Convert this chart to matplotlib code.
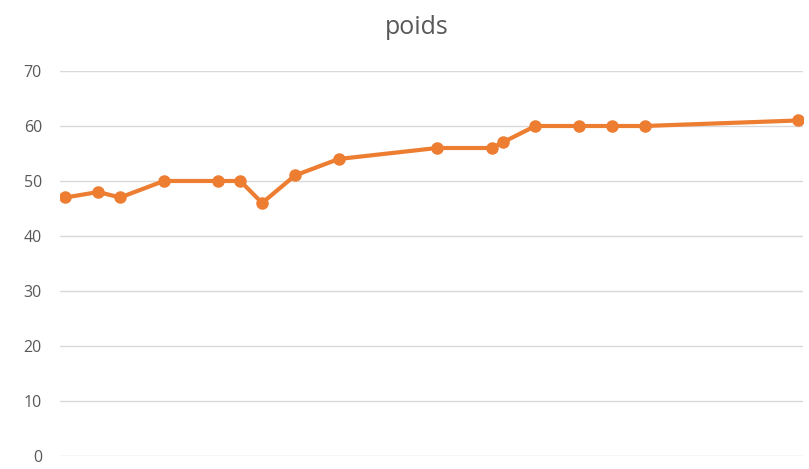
import matplotlib
matplotlib.use('Agg')
import matplotlib.pyplot as plt

# jours depuis la premiere pesee, et poids
jours = [0, 3, 5, 9, 14, 16, 18, 21, 25, 34, 39, 40, 43, 47, 50, 53, 67]
poids = [47, 48, 47, 50, 50, 50, 46, 51, 54, 56, 56, 57, 60, 60, 60, 60, 61]
yticks = [0, 10, 20, 30, 40, 50, 60, 70]

plt.rcParams['font.family'] = ['Open Sans', 'DejaVu Sans']

fig = plt.figure(figsize=(8.09, 4.69), dpi=100)
ax = fig.add_axes([60/809, 1 - 456/469, 743/809, 385/469])

ax.plot(jours, poids, color='#ED7D31', linewidth=3, marker='o',
        markersize=8, solid_capstyle='round', zorder=3)

ax.set_xlim(-0.5, 67.5)
ax.set_ylim(0, 70)
ax.set_yticks(yticks)
ax.set_xticks([])
ax.grid(axis='y', color='#D9D9D9', linewidth=1)
ax.set_axisbelow(True)
for s in ax.spines.values():
    s.set_visible(False)
ax.tick_params(axis='y', length=0, pad=13, labelsize=11.5, labelcolor='#595959')

fig.text(417/809, 1 - 27/469, 'poids', ha='center', va='center',
         fontsize=18, color='#595959')

fig.savefig('out.png', dpi=100)
